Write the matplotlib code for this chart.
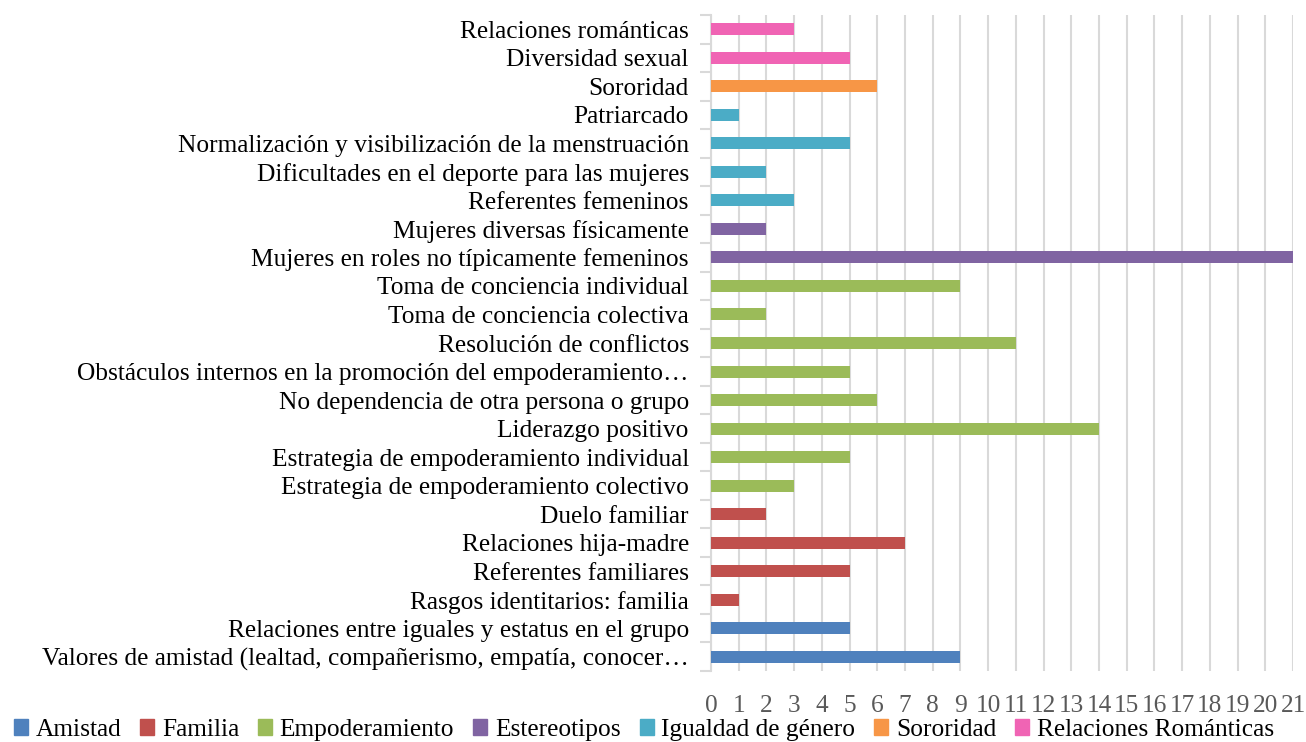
import matplotlib.pyplot as plt
from matplotlib.patches import Patch
import numpy as np

plt.rcParams['font.family'] = ['Liberation Serif', 'DejaVu Serif']

categories = [
    'Valores de amistad (lealtad, compañerismo, empatía, conocer…',
    'Relaciones entre iguales y estatus en el grupo',
    'Rasgos identitarios: familia',
    'Referentes familiares',
    'Relaciones hija-madre',
    'Duelo familiar',
    'Estrategia de empoderamiento colectivo',
    'Estrategia de empoderamiento individual',
    'Liderazgo positivo',
    'No dependencia de otra persona o grupo',
    'Obstáculos internos en la promoción del empoderamiento…',
    'Resolución de conflictos',
    'Toma de conciencia colectiva',
    'Toma de conciencia individual',
    'Mujeres en roles no típicamente femeninos',
    'Mujeres diversas físicamente',
    'Referentes femeninos',
    'Dificultades en el deporte para las mujeres',
    'Normalización y visibilización de la menstruación',
    'Patriarcado',
    'Sororidad',
    'Diversidad sexual',
    'Relaciones románticas',
]
values = [9, 5, 1, 5, 7, 2, 3, 5, 14, 6, 5, 11, 2, 9, 21, 2, 3, 2, 5, 1, 6, 5, 3]
groups = [0, 0, 1, 1, 1, 1, 2, 2, 2, 2, 2, 2, 2, 2, 3, 3, 4, 4, 4, 4, 5, 6, 6]

series = ['Amistad', 'Familia', 'Empoderamiento', 'Estereotipos',
          'Igualdad de género', 'Sororidad', 'Relaciones Románticas']
colors = ['#4F81BD', '#C0504D', '#9BBB59', '#8064A2', '#4BACC6', '#F79646', '#F064B4']

fig = plt.figure(figsize=(13.06, 7.42), dpi=100)
ax = fig.add_axes([711 / 1306, 1 - 671 / 742, 582 / 1306, 656 / 742])

y = np.arange(len(categories))
vals = np.array(values)
grp = np.array(groups)
for i, name in enumerate(series):
    m = grp == i
    ax.barh(y[m], vals[m], height=0.42, color=colors[i], zorder=3)

ax.set_ylim(-0.5, len(categories) - 0.5)
ax.set_xlim(0, 21)
ax.set_xticks(range(0, 22))
ax.grid(axis='x', color='#D9D9D9', linewidth=1.5, zorder=0)

ax.set_yticks(y)
ax.set_yticklabels(categories, fontsize=18.3, color='#000000')
ax.tick_params(axis='y', length=0, pad=16)
ax.set_yticks(np.arange(-0.5, len(categories)), minor=True)
ax.tick_params(axis='y', which='minor', length=8, color='#D9D9D9', width=1.5)
ax.tick_params(axis='x', length=0, pad=17, labelsize=18.3, labelcolor='#595959')

for s in ['top', 'right', 'bottom']:
    ax.spines[s].set_visible(False)
ax.spines['left'].set_color('#D9D9D9')
ax.spines['left'].set_linewidth(1.5)

handles = [Patch(color=c, label=n) for n, c in zip(series, colors)]
fig.legend(handles=handles, loc='center', bbox_to_anchor=(0.493, 1 - 730 / 742),
           ncol=7, frameon=False, fontsize=18.3, handlelength=0.55, handleheight=0.55,
           handletextpad=0.3, columnspacing=0.75, borderaxespad=0)

fig.savefig('out.png', dpi=100)
